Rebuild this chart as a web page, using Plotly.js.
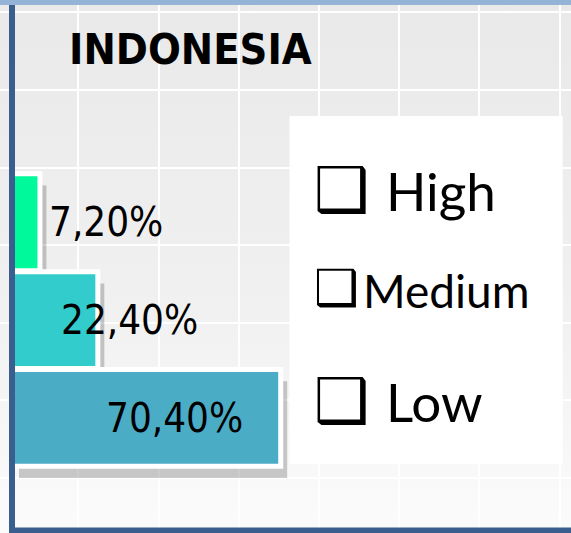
<!DOCTYPE html>
<html>
<head>
<meta charset="utf-8">
<script src="https://cdn.plot.ly/plotly-3.0.1.min.js"></script>
<style>html,body{margin:0;padding:0;background:#fff;}#chart{width:571px;height:533px;}</style>
</head>
<body>
<div id="chart"></div>
<script>
// ---- data ----
const chartTitle = 'INDONESIA';
const categories = ['High', 'Medium', 'Low'];
const values = [7.2, 22.4, 70.4];
const valueLabels = ['7,20%', '22,40%', '70,40%'];

// ---- style ----
const barColors = ['#00F99A', '#33CCCC', '#4BACC6'];
const labelShift = [66, 32, -106];
const W = 571, H = 533;
const px = v => v / W;
const py = v => 1 - v / H;

const narrow = '"Liberation Sans Narrow", "Arial Narrow", "DejaVu Sans Condensed", sans-serif';

const shadow = {
  type: 'bar', orientation: 'h', y: categories, x: values, base: 1.7,
  width: 0.99, offset: -0.495 + 0.12,
  marker: {color: 'rgba(0,0,0,0.2)', line: {width: 0}},
  hoverinfo: 'skip', showlegend: false
};
const bars = {
  type: 'bar', orientation: 'h', y: categories, x: values,
  width: 0.99,
  marker: {color: barColors, line: {color: '#ffffff', width: 5}},
  showlegend: false
};
// empty trace so that the background grid axes (x2/y2) get drawn
const gridHolder = {type: 'scatter', x: [], y: [], xaxis: 'x2', yaxis: 'y2', showlegend: false, hoverinfo: 'skip'};

const bgSvg = '<svg xmlns="http://www.w3.org/2000/svg" width="571" height="533"><defs><linearGradient id="g" x1="0" y1="0" x2="0" y2="1"><stop offset="0" stop-color="#e9e9e9"/><stop offset="0.55" stop-color="#f0f0f0"/><stop offset="1" stop-color="#fbfbfb"/></linearGradient></defs><rect width="571" height="533" fill="url(#g)"/></svg>';

const annotations = [
  {xref: 'paper', yref: 'paper', x: px(190), y: py(49), xanchor: 'center', yanchor: 'middle',
   text: chartTitle, showarrow: false,
   font: {family: narrow, size: 43, color: '#000', weight: 'bold'}}
];
categories.forEach((c, i) => {
  annotations.push({xref: 'x', yref: 'y', x: values[i], y: c, xanchor: 'center', yanchor: 'middle',
    xshift: labelShift[i], text: valueLabels[i], showarrow: false,
    font: {family: narrow, size: 40, color: '#000'}});
});
const legendGlyph = [{x: 312, y: 189, s: 62}, {x: 312, y: 288, s: 50}, {x: 312, y: 400, s: 62}];
const legendText = [{x: 384, y: 190, s: 53}, {x: 361, y: 290, s: 46}, {x: 384, y: 401, s: 53}];
categories.forEach((c, i) => {
  annotations.push({xref: 'paper', yref: 'paper', x: px(legendGlyph[i].x), y: py(legendGlyph[i].y),
    xanchor: 'left', yanchor: 'middle', text: '\u2751', showarrow: false,
    font: {family: '"DejaVu Sans", sans-serif', size: legendGlyph[i].s, color: '#000'}});
  annotations.push({xref: 'paper', yref: 'paper', x: px(legendText[i].x), y: py(legendText[i].y),
    xanchor: 'left', yanchor: 'middle', text: c, showarrow: false,
    font: {family: 'Lato, "Open Sans", sans-serif', size: legendText[i].s, color: '#000'}});
});

const layout = {
  width: W, height: H,
  margin: {l: 0, r: 0, t: 0, b: 0, pad: 0},
  paper_bgcolor: '#f0f0f0',
  plot_bgcolor: 'rgba(0,0,0,0)',
  barmode: 'overlay',
  xaxis: {range: [-3.281, 146.59], showgrid: false, zeroline: false, showticklabels: false, ticks: '', fixedrange: true},
  yaxis: {type: 'category', categoryorder: 'array', categoryarray: categories,
          range: [3.176, -2.271], showgrid: false, zeroline: false, showticklabels: false, ticks: '', fixedrange: true},
  xaxis2: {overlaying: 'x', anchor: 'y2', range: [0, W], tickmode: 'linear', tick0: 78.3, dtick: 80.2,
           showgrid: true, gridcolor: '#ffffff', gridwidth: 2, zeroline: false, showticklabels: false, ticks: '', showline: false, fixedrange: true},
  yaxis2: {overlaying: 'y', anchor: 'x2', range: [H, 0], tickmode: 'linear', tick0: 12.3, dtick: 77.6,
           showgrid: true, gridcolor: '#ffffff', gridwidth: 2, zeroline: false, showticklabels: false, ticks: '', showline: false, fixedrange: true},
  images: [{source: 'data:image/svg+xml;charset=utf-8,' + encodeURIComponent(bgSvg),
            xref: 'paper', yref: 'paper', x: 0, y: 1, sizex: 1, sizey: 1,
            xanchor: 'left', yanchor: 'top', sizing: 'stretch', layer: 'below'}],
  shapes: [
    {type: 'rect', xref: 'paper', yref: 'paper', x0: px(289.5), x1: px(562.7), y0: py(464.3), y1: py(116),
     fillcolor: '#ffffff', line: {width: 0}, layer: 'above'},
    {type: 'rect', xref: 'paper', yref: 'paper', x0: 0, x1: 1, y0: py(5), y1: 1,
     fillcolor: '#95B3D7', line: {width: 0}, layer: 'above'},
    {type: 'rect', xref: 'paper', yref: 'paper', x0: px(9), x1: px(15), y0: 0, y1: py(5),
     fillcolor: '#3A5F8E', line: {width: 0}, layer: 'above'},
    {type: 'rect', xref: 'paper', yref: 'paper', x0: px(9), x1: 1, y0: 0, y1: py(527.5),
     fillcolor: '#3A5F8E', line: {width: 0}, layer: 'above'}
  ],
  annotations: annotations
};

Plotly.newPlot('chart', [shadow, bars, gridHolder], layout, {staticPlot: true, displayModeBar: false});
</script>
</body>
</html>
